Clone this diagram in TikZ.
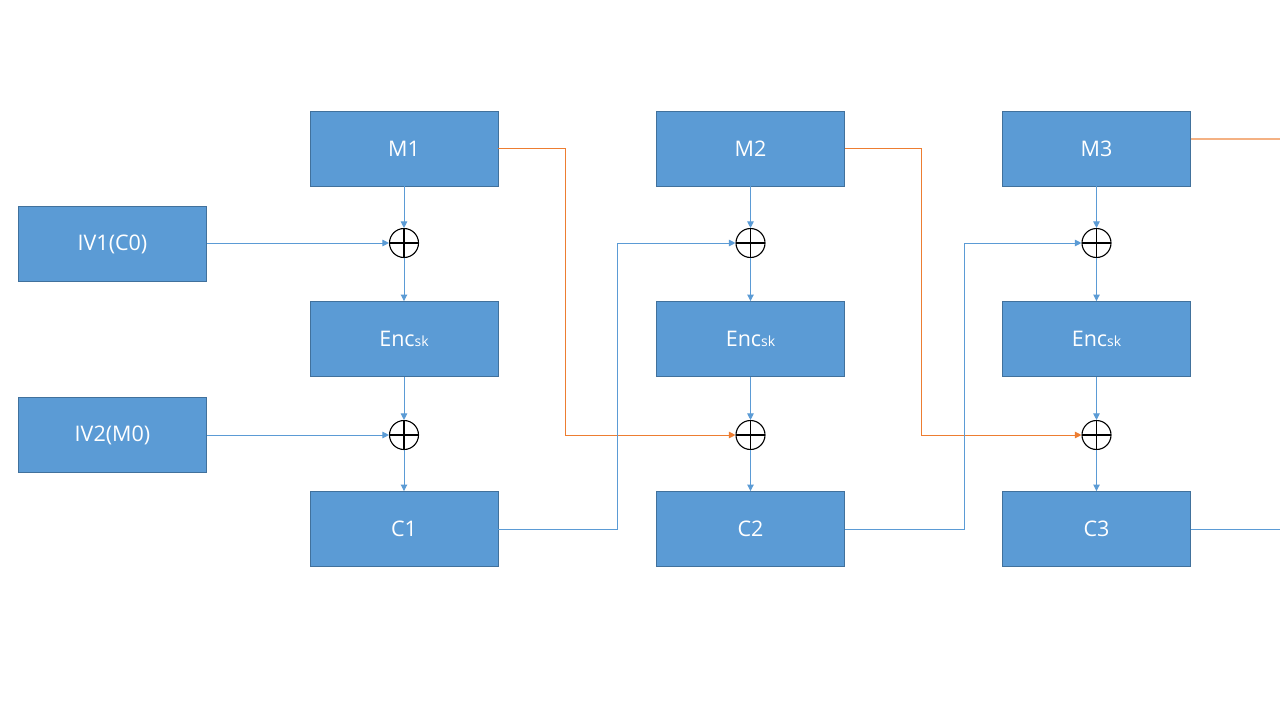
\documentclass[tikz,border=0pt]{standalone}
\usepackage{fontspec}
\setmainfont{Open Sans}
\usetikzlibrary{arrows.meta}
\definecolor{boxfill}{HTML}{5B9BD5}
\definecolor{boxedge}{HTML}{41719C}
\definecolor{lblue}{HTML}{5B9BD5}
\definecolor{lorange}{HTML}{ED7D31}
\definecolor{lpale}{HTML}{F4B183}
\begin{document}
\begin{tikzpicture}[x=1pt,y=-1pt,
  blk/.style={draw=boxedge,fill=boxfill,line width=0.9pt,minimum width=188pt,minimum height=75pt,inner sep=0pt,text=white,font=\fontsize{21.5}{25}\selectfont},
  xorc/.style={circle,draw=black,line width=1.1pt,minimum size=29pt,inner sep=0pt,
    path picture={\draw[black,line width=1.1pt] (path picture bounding box.north) -- (path picture bounding box.south) (path picture bounding box.west) -- (path picture bounding box.east);}},
  bl/.style={draw=lblue,line width=0.9pt},
  orl/.style={draw=lorange,line width=0.9pt},
  tip/.style={-{Triangle[width=6.5pt,length=6.5pt]}}
]
\useasboundingbox (0,0) rectangle (1280,720);
\fill[white] (0,0) rectangle (1280,720);
% boxes
\node[blk] (iv1) at (112.5,244) {IV1(C0)};
\node[blk] (iv2) at (112.5,435) {IV2(M0)};
\foreach \c/\x in {1/404,2/750.5,3/1096.5}{
  \node[blk] (m\c) at (\x,148.5) {M\c};
  \node[blk] (e\c) at (\x,339) {Enc{\fontsize{14}{16}\selectfont sk}};
  \node[blk] (c\c) at (\x,529) {C\c};
  \node[xorc] (xa\c) at (\x,243) {};
  \node[xorc] (xb\c) at (\x,435) {};
  \draw[bl,tip,lblue] (m\c) -- (xa\c);
  \draw[bl,tip,lblue] (xa\c) -- (e\c);
  \draw[bl,tip,lblue] (e\c) -- (xb\c);
  \draw[bl,tip,lblue] (xb\c) -- (c\c);
}
\draw[bl,tip,lblue] (iv1.east |- xa1) -- (xa1);
\draw[bl,tip,lblue] (iv2.east |- xb1) -- (xb1);
% orange
\coordinate (o1a) at (565,148.5);
\coordinate (o1b) at (565,435);
\draw[orl,tip,lorange] (m1.east) -- (o1a) -- (o1b) -- (xb2);
\coordinate (o2a) at (921,148.5);
\coordinate (o2b) at (921,435);
\draw[orl,tip,lorange] (m2.east) -- (o2a) -- (o2b) -- (xb3);
% blue feedback
\coordinate (b1a) at (617,529);
\coordinate (b1b) at (617,243);
\draw[bl,tip,lblue] (c1.east) -- (b1a) -- (b1b) -- (xa2);
\coordinate (b2a) at (964,529);
\coordinate (b2b) at (964,243);
\draw[bl,tip,lblue] (c2.east) -- (b2a) -- (b2b) -- (xa3);
% outgoing
\coordinate (endm) at (1280,139);
\coordinate (endc) at (1280,529);
\draw[draw=lpale,line width=1.2pt] (m3.east |- endm) -- (endm);
\draw[bl] (c3.east) -- (endc);
\end{tikzpicture}
\end{document}
